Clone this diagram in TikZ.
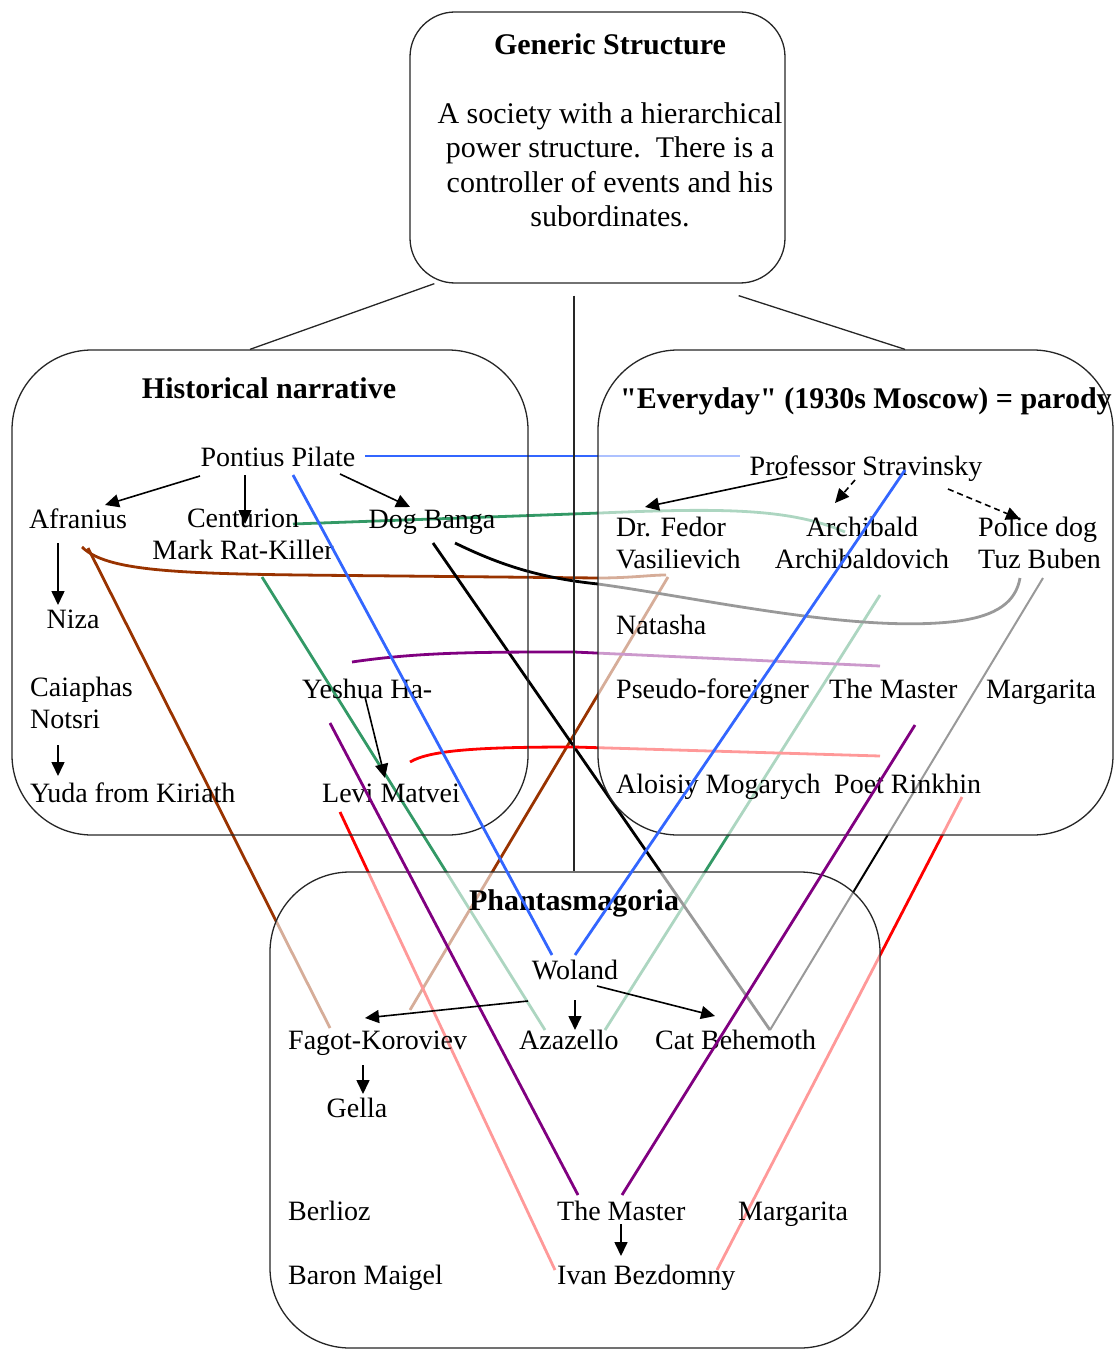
\documentclass[tikz,border=0pt]{standalone}
\usepackage{fontspec}
\setmainfont{Liberation Serif}
\newfontfamily\qfont{Liberation Serif}[Ligatures=TeXOff]
\usetikzlibrary{arrows.meta,calc}
\pgfdeclarelayer{lines}
\pgfdeclarelayer{veil}
\pgfsetlayers{lines,veil,main}
\definecolor{cblue}{HTML}{3366FF}
\definecolor{cgreen}{HTML}{339966}
\definecolor{cbrown}{HTML}{993300}
\definecolor{cpurple}{HTML}{800080}
\definecolor{cred}{HTML}{FF0000}
\begin{document}
\begin{tikzpicture}[x=1pt,y=-1pt,
  lbl/.style={font=\fontsize{28}{32}\selectfont, inner sep=0pt, text height=20pt, text depth=0pt},
  lbltwo/.style={font=\fontsize{28}{32}\selectfont, inner sep=0pt},
  hdr/.style={font=\bfseries\fontsize{30}{34}\selectfont, inner sep=0pt, text height=21pt, text depth=0pt},
  body/.style={font=\fontsize{30}{34.5}\selectfont, inner sep=0pt, align=center},
  panel/.style={draw=black!85, line width=1.3pt, inner sep=0pt},
  link/.style={line width=2.8pt},
  arr/.style={-{Triangle[length=14pt,width=13pt]}, line width=1.6pt},
  darr/.style={arr, dash pattern=on 6pt off 4pt},
  veilfill/.style={fill=white, fill opacity=0.6},
]
\useasboundingbox (0,0) rectangle (1119,1351);

% ---------- panels ----------
\begin{pgfonlayer}{veil}
\node[panel, rounded corners=45pt, minimum width=375pt, minimum height=271pt] (topbox) at (597.5,147.5) {};
\node[panel, rounded corners=80pt, minimum width=516pt, minimum height=485pt] (hbox) at (270,592.5) {};
\node[panel, veilfill, rounded corners=80pt, minimum width=515pt, minimum height=485pt] (ebox) at (855.5,592.5) {};
\node[panel, veilfill, rounded corners=80pt, minimum width=610pt, minimum height=476pt] (pbox) at (575,1110) {};
\end{pgfonlayer}

% ---------- texts ----------
\node[hdr] (gtitle) at (610,44) {Generic Structure};
\node[body] (gbody) at (610,165) {A society with a hierarchical\\power structure.\ \ There is a\\controller of events and his\\subordinates.};

\node[hdr] (htitle) at (269,388) {Historical narrative};
\node[lbl] (pilate) at (278,456) {Pontius Pilate};
\node[lbl] (afr) at (78,518) {Afranius};
\node[lbltwo, align=center] (cent) at (243,534) {Centurion\\Mark Rat-Killer};
\node[lbl] (banga) at (432,518) {Dog Banga};
\node[lbl] (niza) at (73,618) {Niza};
\node[lbltwo, align=left, anchor=west] (caia) at (30,703) {Caiaphas\\Notsri};
\node[lbl, anchor=west] (yuda) at (30,792) {Yuda from Kiriath};
\node[lbl, anchor=west] (yesh) at (302,688) {Yeshua Ha-};
\node[lbl, anchor=west] (levi) at (322,792) {Levi Matvei};

\node[hdr, anchor=west, font=\qfont\bfseries\fontsize{30}{34}\selectfont] (etitle) at (620,398) {"Everyday" (1930s Moscow) = parody};
\node[lbl] (strav) at (866,465) {Professor Stravinsky};
\node[lbltwo, align=left, anchor=west] (fedor) at (616,543) {Dr. Fedor\\Vasilievich};
\node[lbltwo, align=center] (archi) at (862,543) {Archibald\\Archibaldovich};
\node[lbltwo, align=left, anchor=west] (tuz) at (978,543) {Police dog\\Tuz Buben};
\node[lbl, anchor=west] (natasha) at (616,624) {Natasha};
\node[lbl, anchor=west] (pseudo) at (616,688) {Pseudo-foreigner};
\node[lbl, anchor=west] (emaster) at (829,688) {The Master};
\node[lbl, anchor=west] (emarg) at (986,688) {Margarita};
\node[lbl, anchor=west] (aloisiy) at (616,783) {Aloisiy Mogarych};
\node[lbl, anchor=west] (rinkhin) at (834,783) {Poet Rinkhin};

\node[hdr] (ptitle) at (574,900) {Phantasmagoria};
\node[lbl] (woland) at (575,969) {Woland};
\node[lbl, anchor=west] (fagot) at (288,1039) {Fagot-Koroviev};
\node[lbl, anchor=west] (azaz) at (519,1039) {Azazello};
\node[lbl, anchor=west] (cat) at (655,1039) {Cat Behemoth};
\node[lbl] (gella) at (357,1107) {Gella};
\node[lbl, anchor=west] (berlioz) at (288,1210) {Berlioz};
\node[lbl, anchor=west] (maigel) at (288,1274) {Baron Maigel};
\node[lbl, anchor=west] (pmaster) at (557,1210) {The Master};
\node[lbl, anchor=west] (pmarg) at (738,1210) {Margarita};
\node[lbl, anchor=west] (ivan) at (557,1274) {Ivan Bezdomny};

% ---------- links that fade inside the right and bottom panels ----------
\begin{pgfonlayer}{lines}
\draw[link, cblue] ($(pilate)+(87,0)$) -- ($(strav)+(-126,-9)$);
\draw[link, cgreen] ($(cent)+(50,-10)$) -- (600,513) .. controls (720,508) and (790,508) .. ($(archi)+(-17,-11)$);
\draw[link, cgreen] ($(cent)+(19,43)$) -- ($(azaz.west)+(26,-9)$);
\draw[link, cgreen] ($(azaz.west)+(86,-9)$) -- ($(archi)+(18,52)$);
\draw[link, cbrown] ($(afr)+(4,29)$) .. controls (110,575) and (200,574) .. (400,576) -- (598,578) .. controls (630,578) and (650,575) .. ($(fedor.west)+(50,32)$);
\draw[link, cbrown] ($(afr)+(10,30)$) -- ($(fagot.west)+(42,-11)$);
\draw[link, cbrown] ($(fedor.west)+(52,34)$) -- ($(fagot.west)+(122,-29)$);
\draw[link, black] ($(banga)+(1,25)$) -- ($(cat.west)+(115,-9)$);
\draw[link, black] ($(banga)+(23,25)$) .. controls (500,565) and (540,578) .. (598,584) .. controls (700,598) and (850,632) .. (950,622) .. controls (1000,617) and (1016,600) .. ($(tuz.west)+(42,35)$);
\draw[line width=2pt, black] ($(tuz.west)+(65,35)$) -- ($(cat.west)+(115,-9)$);
\draw[link, cpurple] ($(yesh.west)+(50,-26)$) .. controls (420,652) and (480,652) .. (574,652) -- ($(emaster.west)+(51,-22)$);
\draw[link, cred] ($(levi.west)+(88,-30)$) .. controls (430,750) and (480,747) .. (574,747) -- ($(rinkhin.west)+(46,-27)$);
\draw[link, cred] ($(levi.west)+(18,20)$) -- ($(ivan.west)+(-2,-4)$);
\draw[link, cred] ($(ivan.west)+(160,-4)$) -- ($(rinkhin.west)+(128,14)$);
\end{pgfonlayer}

% ---------- links that stay solid ----------
\draw[link, cblue] ($(pilate)+(15,19)$) -- ($(woland)+(-23,-14)$);
\draw[link, cblue] ($(woland)+(0,-14)$) -- ($(strav)+(39,5)$);
\draw[link, cpurple] ($(yesh.west)+(28,35)$) -- ($(pmaster.west)+(21,-15)$);
\draw[link, cpurple] ($(pmaster.west)+(65,-15)$) -- ($(emaster.west)+(86,37)$);

% ---------- structure lines ----------
\draw[line width=1.3pt, black!85] ($(topbox.south west)+(25,0)$) -- ($(hbox.north)+(-20,0)$);
\draw[line width=1.3pt, black!85] ($(topbox.south east)+(-47,12)$) -- ($(ebox.north)+(49.5,0)$);
\draw[line width=1.3pt, black!85] ($(topbox.south)+(-23.5,12)$) -- ($(pbox.north)+(-1,0)$);

% ---------- hierarchy arrows ----------
\draw[arr] ($(pilate)+(-78,20)$) -- ($(afr)+(27,-13)$);
\draw[arr] ($(pilate)+(-33,19)$) -- ($(cent)+(2,-10)$);
\draw[arr] ($(pilate)+(62,18)$) -- ($(banga)+(-22,-11)$);
\draw[arr] ($(afr)+(-20,25)$) -- ($(niza)+(-15,-13)$);
\draw[arr] ($(caia.west)+(28,42)$) -- ($(yuda.west)+(28,-16)$);
\draw[arr] ($(yesh.west)+(63,9)$) -- ($(levi.west)+(63,-14)$);
\draw[arr] ($(strav)+(-79,12)$) -- ($(fedor.west)+(29,-36)$);
\draw[darr] ($(strav)+(-11,15)$) -- ($(archi)+(-27,-40)$);
\draw[darr] ($(strav)+(82,24)$) -- ($(tuz.west)+(42,-24)$);
\draw[arr] ($(woland)+(-47,32)$) -- ($(fagot.west)+(77,-21)$);
\draw[arr] ($(woland)+(0,31)$) -- ($(azaz.west)+(56,-9)$);
\draw[arr] ($(woland)+(22,17)$) -- ($(cat.west)+(60,-23)$);
\draw[arr] ($(fagot.west)+(75,26)$) -- ($(gella)+(6,-13)$);
\draw[arr] ($(pmaster.west)+(64,14)$) -- ($(ivan.west)+(64,-18)$);
\end{tikzpicture}
\end{document}
